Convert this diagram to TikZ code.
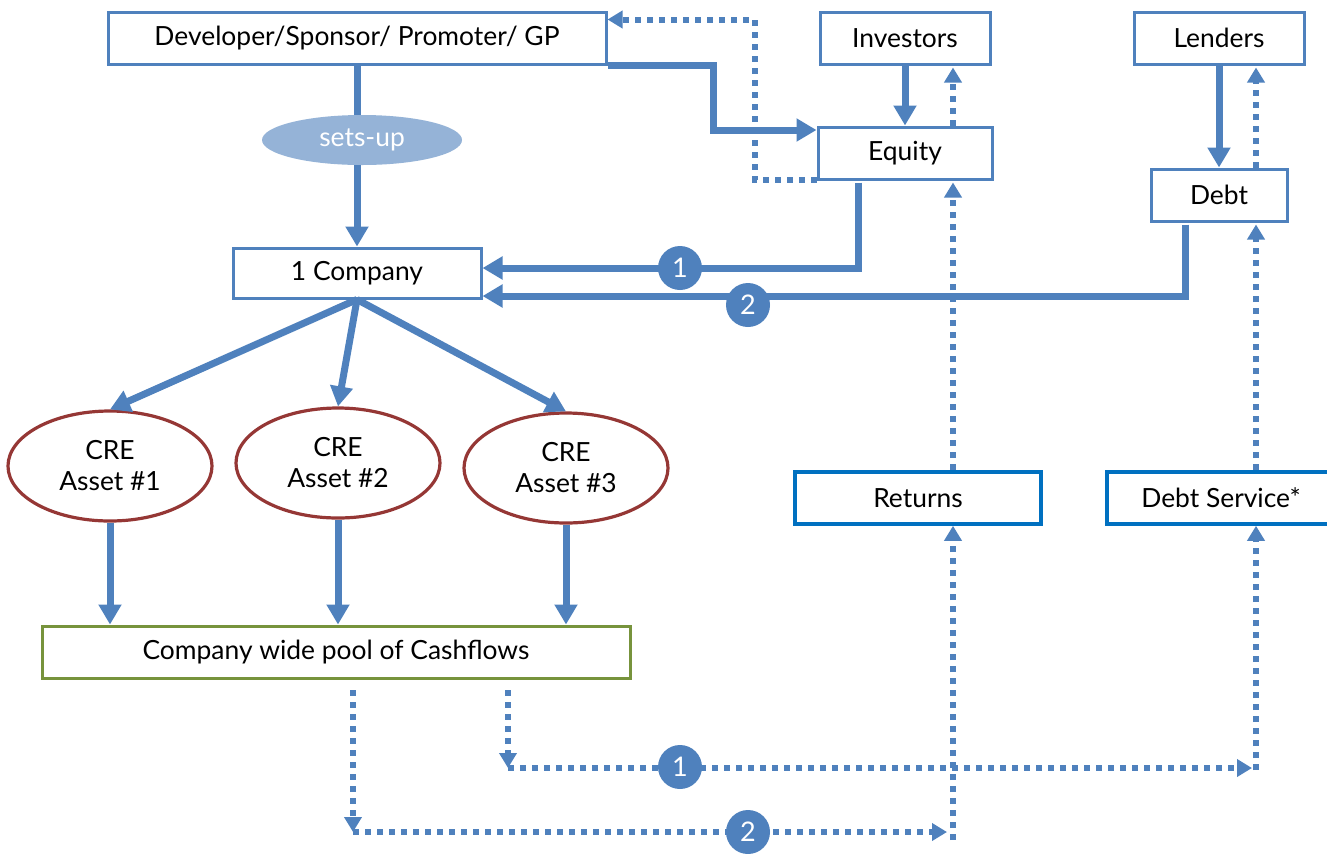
\documentclass[tikz,border=0pt]{standalone}
\usepackage{fontspec}
\setmainfont{Lato}
\usepackage{tikz}
\usetikzlibrary{shapes,shapes.geometric}
\usetikzlibrary{calc}
\usetikzlibrary{positioning}
\usetikzlibrary{arrows.meta}
\definecolor{boxblue}{HTML}{4F81BD}
\definecolor{deepblue}{HTML}{0070C0}
\definecolor{assetred}{HTML}{953735}
\definecolor{poolgreen}{HTML}{77933C}
\definecolor{setfill}{HTML}{95B3D7}
\tikzset{box/.style={rectangle,draw=boxblue,line width=1.5pt,fill=white,
minimum height=26pt, font=\fontsize{13.2}{15.5}\selectfont},
outbox/.style={box,draw=deepblue,line width=1.8pt},
poolbox/.style={box,draw=poolgreen},
asset/.style={ellipse,draw=assetred,line width=1.6pt,fill=white,minimum width=102pt,
minimum height=55pt,align=center, font=\fontsize{13.2}{15.5}\selectfont},
setup/.style={ellipse,fill=setfill,text=white,minimum width=100pt,minimum height=25pt,
inner sep=0pt, font=\fontsize{13.2}{15.5}\selectfont},
num/.style={circle,fill=boxblue,text=white,minimum size=22pt,inner sep=0pt,
font=\fontsize{13.5}{15}\selectfont},
flow/.style={color=boxblue, line width=3.5pt,
-{Triangle[length=10pt,width=11pt]}},
ret/.style={color=boxblue, line width=3pt, dash pattern=on 3pt off 3pt,
-{Triangle[length=7.5pt,width=8.5pt]}},
plain/.style={color=boxblue, line width=3.5pt}}
\begin{document}
\begin{tikzpicture}[x=0.5pt,y=-0.5pt]
  \useasboundingbox (0,0) rectangle (1327,853);

  \node (dev) [box, minimum width=249pt] at (357,38) {Developer/Sponsor/ Promoter/ GP};
  \node (inv) [box, minimum width=85pt] at (905,38) {Investors};
  \node (lend) [box, minimum width=85pt] at (1219,38) {Lenders};
  \node (eq) [box, minimum width=87pt] at (905,153) {Equity};
  \node (debt) [box, minimum width=68pt] at (1219,195) {Debt};
  \node (comp) [box, minimum width=124pt, minimum height=25pt] at (357,273) {1 Company};
  \node (a1) [asset] at (110,466) {CRE\\Asset \#1};
  \node (a2) [asset] at (338,463) {CRE\\Asset \#2};
  \node (a3) [asset] at (566,468) {CRE\\Asset \#3};
  \node (pool) [poolbox, minimum width=294pt] at (336,652) {Company wide pool of Cashflows};
  \node (rets) [outbox, minimum width=123pt] at (918,498) {Returns};
  \node (serv) [outbox, minimum width=114pt] at (1221,498) {Debt Service*};

  \coordinate (p1) at (508,690);
  \coordinate (k1) at (508,768);
  \coordinate (m1) at (1256,768);
  \coordinate (p2) at (353,690);
  \coordinate (k2) at (353,832);
  \coordinate (m2) at (953,832);

  \draw [plain] (dev.south) -- (357,115);
  \node (sets) [setup] at (362,140) {sets-up};
  \draw [flow] (sets.south -| comp.north) -- (comp.north);

  \draw [flow] (dev.south east) -- ++(106,0) |- ($(eq.west)+(0,-23)$);
  \draw [ret] ($(eq.south west)+(0,-1)$) -- ++(-62,0) |- ($(dev.north east)+(0,9)$);
  \draw [flow] (inv.south) -- (eq.north);
  \draw [ret] ($(eq.north)+(48,0)$) -- ($(inv.south)+(48,2)$);
  \draw [flow] (lend.south) -- (debt.north);
  \draw [ret] ($(debt.north)+(37,0)$) -- ($(lend.south)+(37,2)$);

  \draw [flow] ($(eq.south)+(-47,2)$) |- ($(comp.east)+(0,-5)$);
  \draw [flow] ($(debt.south)+(-34,2)$) |- ($(comp.east)+(0,23)$);

  \draw [flow] (comp.south) -- (a1.north);
  \draw [flow] (comp.south) -- (a2.north);
  \draw [flow] (comp.south) -- (a3.north);
  \draw [flow] (a1.south) -- (a1.south |- pool.north);
  \draw [flow] (a2.south) -- (a2.south |- pool.north);
  \draw [flow] (a3.south) -- (a3.south |- pool.north);

  \draw [ret] (p1) -- (k1);
  \draw [ret] (k1) -- ($(m1)+(-4,0)$);
  \draw [ret] ($(m1)+(0,2)$) -- (serv.south -| m1);
  \draw [ret] (serv.north -| m1) -- ($(debt.south -| m1)+(0,2)$);
  \draw [ret] (p2) -- (k2);
  \draw [ret] (k2) -- ($(m2)+(-6,0)$);
  \draw [ret] ($(m2)+(0,8)$) -- (rets.south -| m2);
  \draw [ret] (rets.north -| m2) -- ($(eq.south -| m2)+(0,2)$);

  \node (n1) [num] at (680,268) {1};
  \node (n2) [num] at (748,305) {2};
  \node (b1) [num] at (680,767) {1};
  \node (b2) [num] at (748,832) {2};
\end{tikzpicture}
\end{document}
